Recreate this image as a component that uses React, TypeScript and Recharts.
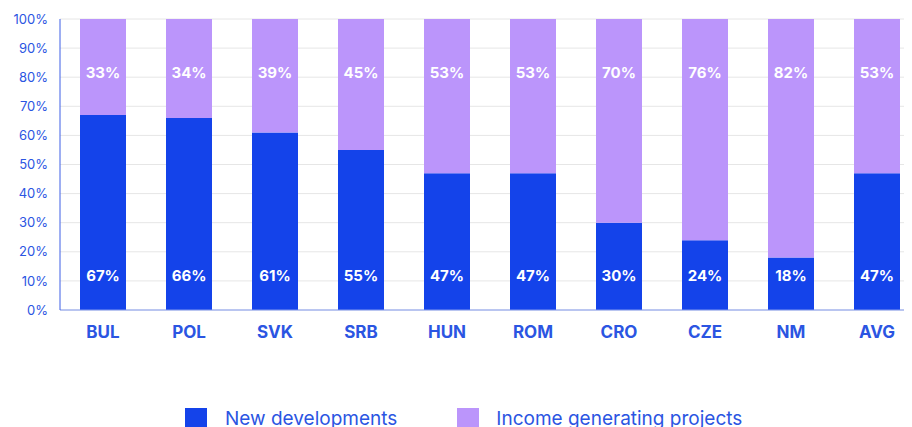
import { BarChart, Bar, XAxis, YAxis, CartesianGrid, Legend, LabelList } from "recharts";

const countries = ["BUL", "POL", "SVK", "SRB", "HUN", "ROM", "CRO", "CZE", "NM", "AVG"];
const newDevelopments = [67, 66, 61, 55, 47, 47, 30, 24, 18, 47];
const incomeProjects = [33, 34, 39, 45, 53, 53, 70, 76, 82, 53];
const yTicks = [0, 10, 20, 30, 40, 50, 60, 70, 80, 90, 100];

const BLUE = "#1443ea";
const PURPLE = "#bb95fb";
const TEXT = "#2b55e2";
const FONT = "Inter, 'Noto Sans', sans-serif";

const data = countries.map((c, i) => ({
  name: c,
  newDev: newDevelopments[i],
  income: incomeProjects[i]
}));

// labels sit at a fixed distance from the bar's outer end
const bottomLabel = (props: any) => {
  const { x, y, width, height, value } = props;
  return (
    <text x={x + width / 2} y={y + height - 35} fill="#fff" textAnchor="middle"
      dominantBaseline="central" fontSize={15} fontWeight={700} fontFamily={FONT}>
      {value}%
    </text>
  );
};

const topLabel = (props: any) => {
  const { x, y, width, value } = props;
  return (
    <text x={x + width / 2} y={y + 53} fill="#fff" textAnchor="middle"
      dominantBaseline="central" fontSize={15} fontWeight={700} fontFamily={FONT}>
      {value}%
    </text>
  );
};

const xTick = (props: any) => {
  const { x, y, payload } = props;
  return (
    <text x={x} y={y + 14} fill={TEXT} textAnchor="middle" dominantBaseline="central"
      fontSize={17} fontWeight={700} fontFamily={FONT}>
      {payload.value}
    </text>
  );
};

const legendContent = () => (
  <div style={{ display: "flex", alignItems: "center", fontFamily: FONT, fontSize: 19, color: TEXT }}>
    <span style={{ width: 22, height: 22, background: BLUE, display: "inline-block", marginRight: 18 }} />
    <span style={{ marginRight: 60 }}>New developments</span>
    <span style={{ width: 22, height: 22, background: PURPLE, display: "inline-block", marginRight: 17 }} />
    <span>Income generating projects</span>
  </div>
);

export default function App() {
  return (
    <div style={{ width: 904, height: 419, overflow: "hidden" }}>
      <BarChart width={920} height={440} data={data}
        margin={{ top: 11, right: 8, bottom: 85, left: 0 }}
        barSize={46}>
        <CartesianGrid vertical={false} stroke="#e6e6e6" />
        <XAxis dataKey="name" axisLine={{ stroke: "#8098ee" }} tickLine={false}
          tick={xTick} height={30} interval={0} />
        <YAxis width={52} domain={[0, 100]} ticks={yTicks} interval={0}
          axisLine={{ stroke: "#3d5ee6" }} tickLine={false} tickMargin={6}
          tickFormatter={(v: number) => `${v}%`}
          tick={{ fill: TEXT, fontSize: 13, fontFamily: FONT }} />
        <Legend content={legendContent} wrapperStyle={{ top: 399, left: 177, width: "auto" }} />
        <Bar dataKey="newDev" stackId="a" fill={BLUE} isAnimationActive={false}>
          <LabelList dataKey="newDev" content={bottomLabel} />
        </Bar>
        <Bar dataKey="income" stackId="a" fill={PURPLE} isAnimationActive={false}>
          <LabelList dataKey="income" content={topLabel} />
        </Bar>
      </BarChart>
    </div>
  );
}
